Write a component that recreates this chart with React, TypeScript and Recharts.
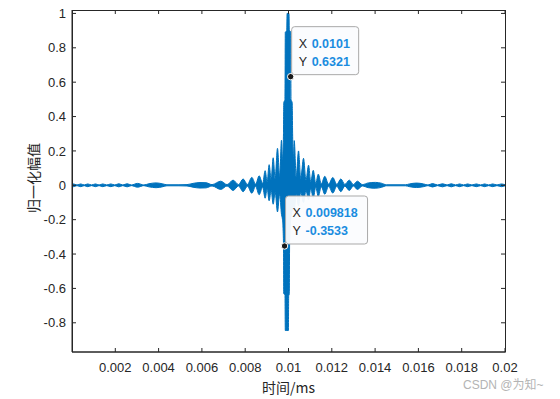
import { Area, ComposedChart, ReferenceDot, XAxis, YAxis } from "recharts";

// envelope of the compressed pulse (time in s-ish units as plotted)
const T = [
  0, 0.000065, 0.000231, 0.000403, 0.000565, 0.000727, 0.000903, 0.001083, 0.00125, 0.001421,
  0.001606, 0.001792, 0.001977, 0.002162, 0.002347, 0.002546, 0.002741, 0.003028, 0.003319, 0.003551,
  0.003889, 0.004199, 0.004384, 0.00494, 0.00531, 0.005588, 0.005912, 0.00619, 0.006468, 0.00687,
  0.007162, 0.00744, 0.007694, 0.007903, 0.008102, 0.008306, 0.008481, 0.008644, 0.008806, 0.008921,
  0.009014, 0.009106, 0.009199, 0.009292, 0.009384, 0.009491, 0.009593, 0.009676, 0.009722, 0.009769,
  0.009782, 0.009838, 0.009852, 0.009921, 0.009935, 0.009995, 0.010009, 0.010023, 0.010037, 0.010051,
  0.010102, 0.010116, 0.010171, 0.01019, 0.010227, 0.010264, 0.010356, 0.010463, 0.010565, 0.010694,
  0.010806, 0.010926, 0.011028, 0.011144, 0.011259, 0.011375, 0.011514, 0.011676, 0.011852, 0.012046,
  0.012231, 0.012417, 0.012602, 0.01281, 0.012995, 0.013181, 0.013412, 0.01369, 0.014014, 0.014292,
  0.014523, 0.015403, 0.015588, 0.015912, 0.016236, 0.016444, 0.016653, 0.016884, 0.017116, 0.017324,
  0.017519, 0.017718, 0.017903, 0.018088, 0.018273, 0.018472, 0.018676, 0.018875, 0.01906, 0.019245,
  0.019431, 0.01963, 0.019833, 0.02,
];

const UPPER = [
  0.003, 0.008, 0.002, 0.008, 0.002, 0.008, 0.002, 0.008, 0.002, 0.008,
  0.002, 0.008, 0.002, 0.009, 0.002, 0.009, 0.002, 0.011, 0.002, 0.009,
  0.014, 0.008, 0.003, 0.003, 0.004, 0.011, 0.016, 0.015, 0.004, 0.024,
  0.004, 0.03, 0.004, 0.037, 0.005, 0.046, 0.006, 0.055, 0.01, 0.085,
  0.02, 0.12, 0.03, 0.16, 0.04, 0.215, 0.05, 0.262, 0.15, 0.3,
  0.48, 0.5, 0.89, 0.9, 1.0, 1.0, 1.0, 1.0, 0.9, 0.9,
  0.89, 0.5, 0.48, 0.3, 0.15, 0.26, 0.05, 0.2, 0.04, 0.157,
  0.03, 0.117, 0.02, 0.087, 0.01, 0.065, 0.008, 0.052, 0.006, 0.045,
  0.005, 0.037, 0.005, 0.03, 0.004, 0.024, 0.004, 0.014, 0.017, 0.012,
  0.003, 0.003, 0.008, 0.013, 0.008, 0.002, 0.01, 0.002, 0.009, 0.002,
  0.009, 0.002, 0.008, 0.002, 0.008, 0.002, 0.008, 0.002, 0.008, 0.002,
  0.008, 0.002, 0.008, 0.003,
];

const LOWER = [
  -0.003, -0.008, -0.002, -0.008, -0.002, -0.008, -0.002, -0.008, -0.002, -0.008,
  -0.002, -0.008, -0.002, -0.009, -0.002, -0.009, -0.002, -0.011, -0.002, -0.009,
  -0.014, -0.008, -0.003, -0.003, -0.004, -0.011, -0.016, -0.015, -0.004, -0.024,
  -0.004, -0.03, -0.004, -0.037, -0.005, -0.046, -0.006, -0.055, -0.01, -0.075,
  -0.02, -0.09, -0.03, -0.11, -0.04, -0.155, -0.05, -0.17, -0.2, -0.34,
  -0.63, -0.64, -0.845, -0.845, -0.845, -0.845, -0.64, -0.64, -0.63, -0.34,
  -0.2, -0.18, -0.15, -0.15, -0.1, -0.146, -0.05, -0.12, -0.04, -0.1,
  -0.03, -0.085, -0.02, -0.075, -0.01, -0.065, -0.008, -0.052, -0.006, -0.045,
  -0.005, -0.037, -0.005, -0.03, -0.004, -0.024, -0.004, -0.014, -0.017, -0.012,
  -0.003, -0.003, -0.008, -0.013, -0.008, -0.002, -0.01, -0.002, -0.009, -0.002,
  -0.009, -0.002, -0.008, -0.002, -0.008, -0.002, -0.008, -0.002, -0.008, -0.002,
  -0.008, -0.002, -0.008, -0.003,
];

const X_TICKS = [0.002, 0.004, 0.006, 0.008, 0.01, 0.012, 0.014, 0.016, 0.018, 0.02];
const Y_TICKS = [-0.8, -0.6, -0.4, -0.2, 0, 0.2, 0.4, 0.6, 0.8, 1];

const TIPS = [
  { x: 0.0101, y: 0.6321, xText: "0.0101", yText: "0.6321", w: 67 },
  { x: 0.009818, y: -0.3533, xText: "0.009818", yText: "-0.3533", w: 82 },
];

const BLUE = "#0072BD";
const INK = "#262626";
const FONT = "'Liberation Sans', Arial, sans-serif";
const CJK = "'Noto Sans CJK SC', sans-serif";

// plot box (matlab-style "box on"), taken from the chart margins
const W = 560;
const H = 399;
const M = { top: 10, right: 55, bottom: 0, left: 0 };
const Y_AXIS_W = 72;
const X_AXIS_H = 47;
const BOX = { left: Y_AXIS_W, top: M.top, right: W - M.right, bottom: H - X_AXIS_H };

const rows = T.map((t, i) => ({ t, env: [LOWER[i], UPPER[i]] }));

function BottomTick({ x, y, payload }: any) {
  return (
    <g>
      <line x1={x} y1={y} x2={x} y2={y - 4} stroke={INK} />
      <line x1={x} y1={BOX.top} x2={x} y2={BOX.top + 4} stroke={INK} />
      <text x={x} y={y + 20} textAnchor="middle" fill={INK} fontSize={13} fontFamily={FONT}>
        {String(payload.value)}
      </text>
    </g>
  );
}

function LeftTick({ x, y, payload }: any) {
  return (
    <g>
      <line x1={x} y1={y} x2={x + 4} y2={y} stroke={INK} />
      <line x1={BOX.right} y1={y} x2={BOX.right - 4} y2={y} stroke={INK} />
      <text x={x - 6} y={y} dy="0.36em" textAnchor="end" fill={INK} fontSize={13} fontFamily={FONT}>
        {String(payload.value)}
      </text>
    </g>
  );
}

function YLabelAndBox() {
  return (
    <g>
      <rect
        x={BOX.left + 0.5}
        y={BOX.top + 0.5}
        width={BOX.right - BOX.left}
        height={BOX.bottom - BOX.top - 0.5}
        fill="none"
        stroke={INK}
        strokeWidth={1}
      />
      <text
        x={33}
        y={178}
        transform="rotate(-90 33 178)"
        textAnchor="middle"
        dominantBaseline="central"
        fill={INK}
        fontSize={14}
        fontFamily={CJK}
      >
        归一化幅值
      </text>
    </g>
  );
}

function DataTip({ cx, cy, tip }: any) {
  const bx = cx + 1;
  const by = cy - 50;
  return (
    <g>
      <rect x={bx} y={by} width={tip.w} height={48} rx={3} fill="#fbfcfe" fillOpacity={0.95} stroke="#a9a9a9" />
      <text x={bx + 7} y={by + 17} dominantBaseline="central" fontSize={12.5} fontFamily={FONT}>
        <tspan fill={INK}>X </tspan>
        <tspan fill="#1a8ce0" fontWeight="bold" x={bx + 20}>{tip.xText}</tspan>
      </text>
      <text x={bx + 7} y={by + 35} dominantBaseline="central" fontSize={12.5} fontFamily={FONT}>
        <tspan fill={INK}>Y </tspan>
        <tspan fill="#1a8ce0" fontWeight="bold" x={bx + 20}>{tip.yText}</tspan>
      </text>
      <circle cx={cx} cy={cy} r={3.2} fill="#1a1a1a" stroke="#ffffff" strokeWidth={1} />
    </g>
  );
}

export default function App() {
  return (
    <div style={{ position: "absolute", left: 0, top: 0, width: W, height: H, background: "#fff" }}>
      <ComposedChart width={W} height={H} data={rows} margin={M}>
        <XAxis
          dataKey="t"
          type="number"
          domain={[0, 0.02]}
          ticks={X_TICKS}
          allowDataOverflow
          height={X_AXIS_H}
          tickSize={0}
          tickMargin={0}
          tickLine={false}
          axisLine={{ stroke: INK }}
          tick={<BottomTick />}
          interval={0}
          label={{ value: "时间/ms", position: "insideBottom", offset: 6, fill: INK, fontSize: 14, fontFamily: CJK }}
        />
        <YAxis
          type="number"
          domain={[-0.97, 1.02]}
          ticks={Y_TICKS}
          allowDataOverflow
          width={Y_AXIS_W}
          tickSize={0}
          tickMargin={0}
          tickLine={false}
          axisLine={{ stroke: INK }}
          tick={<LeftTick />}
          interval={0}
          label={{ content: () => <YLabelAndBox /> }}
        />
        <Area
          type="monotone"
          dataKey="env"
          stroke={BLUE}
          strokeWidth={1}
          fill={BLUE}
          fillOpacity={1}
          dot={false}
          activeDot={false}
          isAnimationActive={false}
        />
        {TIPS.map((tip) => (
          <ReferenceDot
            key={tip.xText}
            x={tip.x}
            y={tip.y}
            r={3}
            shape={(p: any) => <DataTip {...p} tip={tip} />}
          />
        ))}
      </ComposedChart>
      <div
        style={{
          position: "absolute",
          left: 463,
          top: 375,
          fontSize: 12,
          color: "#b4b4b4",
          fontFamily: `${FONT}, ${CJK}`,
          whiteSpace: "nowrap",
        }}
      >
        CSDN @为知~
      </div>
    </div>
  );
}
